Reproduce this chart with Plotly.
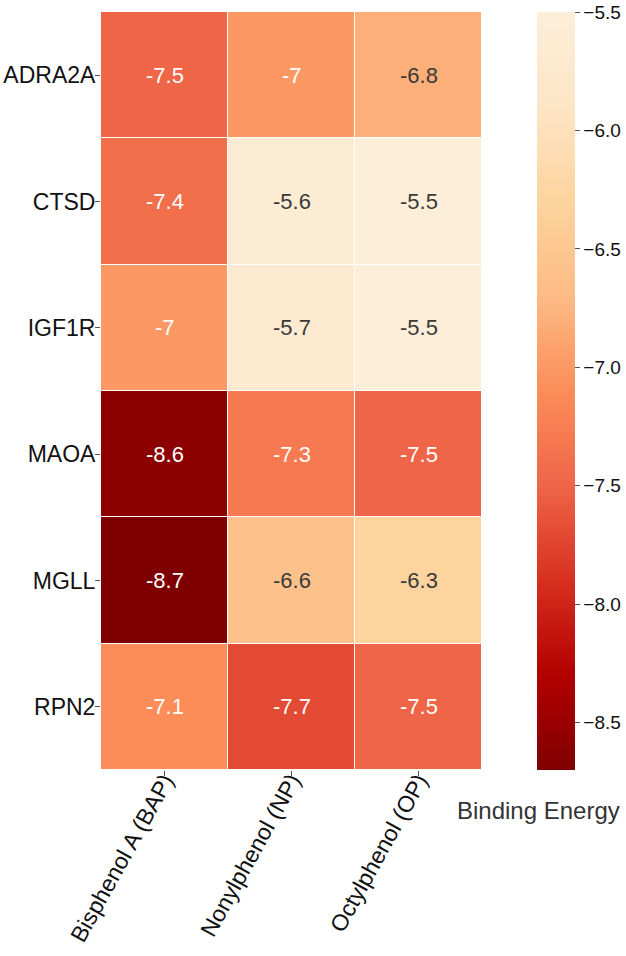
import plotly.graph_objects as go

genes = ["ADRA2A", "CTSD", "IGF1R", "MAOA", "MGLL", "RPN2"]
compounds = ["Bisphenol A (BAP)", "Nonylphenol (NP)", "Octylphenol (OP)"]
bap = [-7.5, -7.4, -7.0, -8.6, -8.7, -7.1]
np_vals = [-7.0, -5.6, -5.7, -7.3, -6.6, -7.7]
op = [-6.8, -5.5, -5.5, -7.5, -6.3, -7.5]
cbar_ticks = [-8.5, -8.0, -7.5, -7.0, -6.5, -6.0, -5.5]

z = [[bap[i], np_vals[i], op[i]] for i in range(len(genes))]
zmin = min(min(r) for r in z)
zmax = max(max(r) for r in z)

FONT = "Liberation Sans, Arial, sans-serif"

# OrRd reversed (dark red for low energy, cream for high)
colors = ["#7f0000", "#b30000", "#d7301f", "#ef6548", "#fc8d59",
          "#fdbb84", "#fdd49e", "#fde5c6", "#fdeed9"]
colorscale = [[k / (len(colors) - 1), c] for k, c in enumerate(colors)]

fig = go.Figure(go.Heatmap(
    z=z, x=compounds, y=genes,
    colorscale=colorscale,
    zmin=zmin, zmax=zmax,
    xgap=1, ygap=1,
    hoverinfo="skip",
    colorbar=dict(
        x=1.1444, xanchor="left", xref="paper",
        y=0.5, yanchor="middle", len=1.0, lenmode="fraction",
        thickness=38, ypad=0, xpad=0,
        outlinewidth=0,
        tickvals=cbar_ticks, tickformat=".1f",
        ticks="outside", ticklen=5, tickcolor="#555", tickwidth=1,
        tickfont=dict(family=FONT, size=19, color="#111"),
    ),
))

annotations = []
for i, g in enumerate(genes):
    for j, c in enumerate(compounds):
        v = z[i][j]
        annotations.append(dict(
            x=c, y=g, xref="x", yref="y", text=f"{v:g}", showarrow=False,
            font=dict(family=FONT, size=22, color="white" if v <= -6.9 else "#3a3a3a"),
        ))
annotations.append(dict(
    x=0.929, y=-0.053, xref="paper", yref="paper", xanchor="left", yanchor="middle",
    text="Binding Energy", showarrow=False,
    font=dict(family=FONT, size=24, color="#333333"),
))

fig.update_layout(
    width=626, height=956,
    margin=dict(l=101, r=144, t=12, b=186, autoexpand=False),
    paper_bgcolor="white", plot_bgcolor="white",
    annotations=annotations,
    xaxis=dict(
        tickangle=-61, ticks="outside", ticklen=5, tickcolor="#555",
        tickfont=dict(family=FONT, size=23, color="#111"),
        ticklabelstandoff=-18,
        showgrid=False, zeroline=False, showline=False, automargin=False,
    ),
    yaxis=dict(
        autorange="reversed", ticks="outside", ticklen=5, tickcolor="#555",
        tickfont=dict(family=FONT, size=23, color="#111"),
        ticklabelstandoff=-5,
        showgrid=False, zeroline=False, showline=False, automargin=False,
    ),
)

fig.write_html("out.html")
